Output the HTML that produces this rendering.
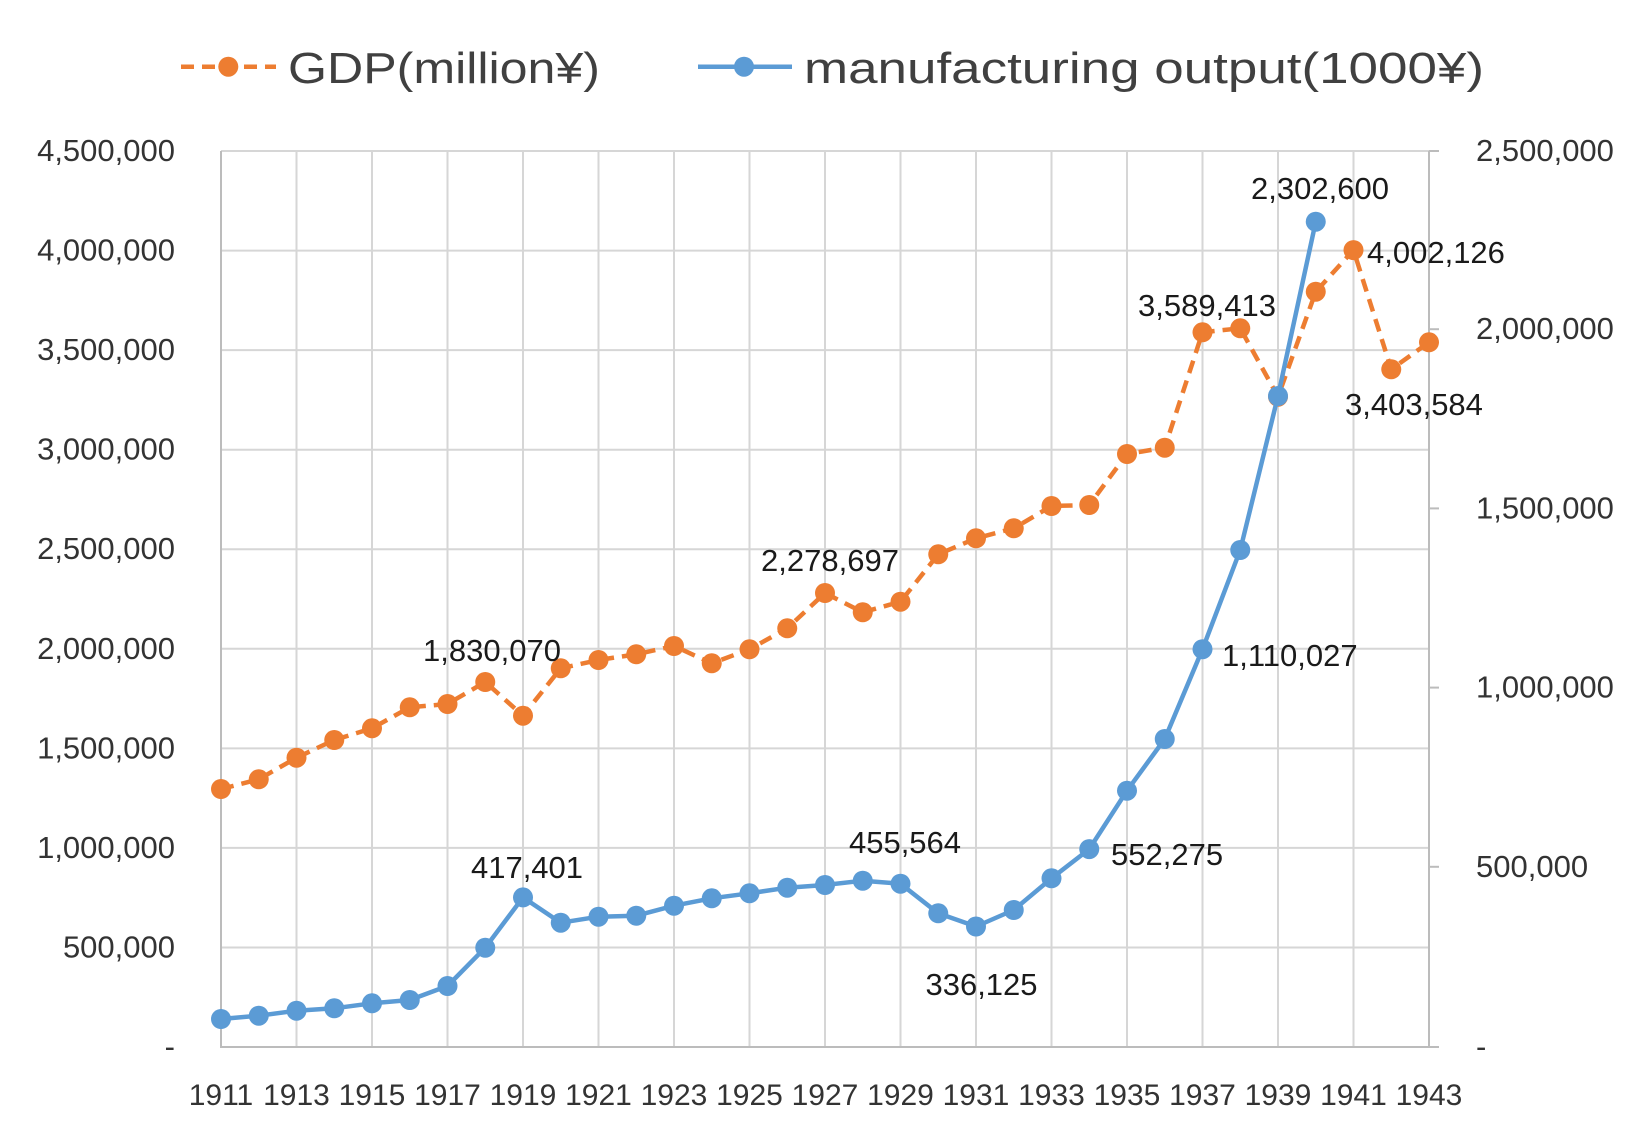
<!DOCTYPE html>
<html>
<head>
<meta charset="utf-8">
<style>
html,body{margin:0;padding:0;background:#fff;}
svg{display:block;}
text{font-family:"Liberation Sans","Noto Sans CJK KR",sans-serif;}
</style>
</head>
<body>
<svg width="1650" height="1139" viewBox="0 0 1650 1139" xmlns="http://www.w3.org/2000/svg">
<rect width="1650" height="1139" fill="#fff"/>

<!-- Legend -->
<line x1="181" y1="66.7" x2="276" y2="66.7" stroke="#ED7D31" stroke-width="4.5" stroke-dasharray="13 8"/>
<circle cx="228.3" cy="66.7" r="10" fill="#ED7D31"/>
<text x="288" y="83" font-size="44" fill="#404040" textLength="312" lengthAdjust="spacingAndGlyphs">GDP(million¥)</text>
<line x1="698" y1="66.7" x2="792" y2="66.7" stroke="#5B9BD5" stroke-width="4.5"/>
<circle cx="744" cy="66.7" r="10" fill="#5B9BD5"/>
<text x="804" y="83" font-size="44" fill="#404040" textLength="680" lengthAdjust="spacingAndGlyphs">manufacturing output(1000¥)</text>

<!-- Gridlines -->
<g stroke="#d6d6d6" stroke-width="2">
<line x1="221" y1="151" x2="1439" y2="151"/>
<line x1="221" y1="250.6" x2="1429" y2="250.6"/>
<line x1="221" y1="350.1" x2="1429" y2="350.1"/>
<line x1="221" y1="449.7" x2="1429" y2="449.7"/>
<line x1="221" y1="549.2" x2="1429" y2="549.2"/>
<line x1="221" y1="648.8" x2="1429" y2="648.8"/>
<line x1="221" y1="748.4" x2="1429" y2="748.4"/>
<line x1="221" y1="847.9" x2="1429" y2="847.9"/>
<line x1="221" y1="947.5" x2="1429" y2="947.5"/>
<line x1="296.5" y1="151" x2="296.5" y2="1047"/>
<line x1="372" y1="151" x2="372" y2="1047"/>
<line x1="447.5" y1="151" x2="447.5" y2="1047"/>
<line x1="523" y1="151" x2="523" y2="1047"/>
<line x1="598.5" y1="151" x2="598.5" y2="1047"/>
<line x1="674" y1="151" x2="674" y2="1047"/>
<line x1="749.5" y1="151" x2="749.5" y2="1047"/>
<line x1="825" y1="151" x2="825" y2="1047"/>
<line x1="900.5" y1="151" x2="900.5" y2="1047"/>
<line x1="976" y1="151" x2="976" y2="1047"/>
<line x1="1051.5" y1="151" x2="1051.5" y2="1047"/>
<line x1="1127" y1="151" x2="1127" y2="1047"/>
<line x1="1202.5" y1="151" x2="1202.5" y2="1047"/>
<line x1="1278" y1="151" x2="1278" y2="1047"/>
<line x1="1353.5" y1="151" x2="1353.5" y2="1047"/>
</g>

<!-- Axes -->
<g stroke="#bcbcbc" stroke-width="2">
<line x1="221" y1="151" x2="221" y2="1048"/>
<line x1="1429" y1="151" x2="1429" y2="1048"/>
<line x1="220" y1="1047" x2="1439" y2="1047"/>
<line x1="1429" y1="151" x2="1439" y2="151"/>
<line x1="1429" y1="329.2" x2="1439" y2="329.2"/>
<line x1="1429" y1="508.4" x2="1439" y2="508.4"/>
<line x1="1429" y1="687.6" x2="1439" y2="687.6"/>
<line x1="1429" y1="866.8" x2="1439" y2="866.8"/>
</g>

<!-- Left axis labels -->
<g font-size="31" fill="#333" text-anchor="end">
<text x="175" y="161">4,500,000</text>
<text x="175" y="260.6">4,000,000</text>
<text x="175" y="360.1">3,500,000</text>
<text x="175" y="459.7">3,000,000</text>
<text x="175" y="559.2">2,500,000</text>
<text x="175" y="658.8">2,000,000</text>
<text x="175" y="758.4">1,500,000</text>
<text x="175" y="857.9">1,000,000</text>
<text x="175" y="957.5">500,000</text>
<text x="175" y="1057">-</text>
</g>

<!-- Right axis labels -->
<g font-size="31" fill="#333" text-anchor="start">
<text x="1476" y="161">2,500,000</text>
<text x="1476" y="339.2">2,000,000</text>
<text x="1476" y="518.4">1,500,000</text>
<text x="1476" y="697.6">1,000,000</text>
<text x="1476" y="876.8">500,000</text>
<text x="1476" y="1057">-</text>
</g>

<!-- X axis labels -->
<g font-size="30" fill="#333" text-anchor="middle">
<text x="221" y="1105">1911</text>
<text x="296.5" y="1105">1913</text>
<text x="372" y="1105">1915</text>
<text x="447.5" y="1105">1917</text>
<text x="523" y="1105">1919</text>
<text x="598.5" y="1105">1921</text>
<text x="674" y="1105">1923</text>
<text x="749.5" y="1105">1925</text>
<text x="825" y="1105">1927</text>
<text x="900.5" y="1105">1929</text>
<text x="976" y="1105">1931</text>
<text x="1051.5" y="1105">1933</text>
<text x="1127" y="1105">1935</text>
<text x="1202.5" y="1105">1937</text>
<text x="1278" y="1105">1939</text>
<text x="1353.5" y="1105">1941</text>
<text x="1429" y="1105">1943</text>
</g>

<!-- GDP series -->
<polyline fill="none" stroke="#ED7D31" stroke-width="4.5" stroke-dasharray="13 8" stroke-linejoin="round"
points="221,789 258.75,779.3 296.5,757.7 334.25,740 372,728.3 409.75,707.3 447.5,704 485.25,682 523,715.7 560.75,668.3 598.5,660 636.25,654.3 674,646 711.75,663.3 749.5,649.3 787.25,628.3 825,593 862.75,612.3 900.5,601.7 938.25,554.3 976,538.3 1013.75,528.3 1051.5,506 1089.25,505 1127,454 1164.75,447.7 1202.5,332.3 1240.25,328.3 1278,396.7 1315.75,291.7 1353.5,250.1 1391.25,369.3 1429,342.3"/>
<g fill="#ED7D31">
<circle cx="221" cy="789" r="10"/>
<circle cx="258.75" cy="779.3" r="10"/>
<circle cx="296.5" cy="757.7" r="10"/>
<circle cx="334.25" cy="740" r="10"/>
<circle cx="372" cy="728.3" r="10"/>
<circle cx="409.75" cy="707.3" r="10"/>
<circle cx="447.5" cy="704" r="10"/>
<circle cx="485.25" cy="682" r="10"/>
<circle cx="523" cy="715.7" r="10"/>
<circle cx="560.75" cy="668.3" r="10"/>
<circle cx="598.5" cy="660" r="10"/>
<circle cx="636.25" cy="654.3" r="10"/>
<circle cx="674" cy="646" r="10"/>
<circle cx="711.75" cy="663.3" r="10"/>
<circle cx="749.5" cy="649.3" r="10"/>
<circle cx="787.25" cy="628.3" r="10"/>
<circle cx="825" cy="593" r="10"/>
<circle cx="862.75" cy="612.3" r="10"/>
<circle cx="900.5" cy="601.7" r="10"/>
<circle cx="938.25" cy="554.3" r="10"/>
<circle cx="976" cy="538.3" r="10"/>
<circle cx="1013.75" cy="528.3" r="10"/>
<circle cx="1051.5" cy="506" r="10"/>
<circle cx="1089.25" cy="505" r="10"/>
<circle cx="1127" cy="454" r="10"/>
<circle cx="1164.75" cy="447.7" r="10"/>
<circle cx="1202.5" cy="332.3" r="10"/>
<circle cx="1240.25" cy="328.3" r="10"/>
<circle cx="1278" cy="396.7" r="10"/>
<circle cx="1315.75" cy="291.7" r="10"/>
<circle cx="1353.5" cy="250.1" r="10"/>
<circle cx="1391.25" cy="369.3" r="10"/>
<circle cx="1429" cy="342.3" r="10"/>
</g>

<!-- Manufacturing series -->
<polyline fill="none" stroke="#5B9BD5" stroke-width="4.5" stroke-linejoin="round"
points="221,1019 258.75,1015.7 296.5,1010.7 334.25,1008.3 372,1003.3 409.75,1000 447.5,986 485.25,947.7 523,897.4 560.75,922.7 598.5,916.7 636.25,915.7 674,905.7 711.75,898.3 749.5,893.3 787.25,887.7 825,885 862.75,880.7 900.5,883.7 938.25,913.3 976,926.5 1013.75,910 1051.5,878.3 1089.25,849.1 1127,790.7 1164.75,739 1202.5,649.2 1240.25,550 1278,396 1315.75,221.7"/>
<g fill="#5B9BD5">
<circle cx="221" cy="1019" r="10"/>
<circle cx="258.75" cy="1015.7" r="10"/>
<circle cx="296.5" cy="1010.7" r="10"/>
<circle cx="334.25" cy="1008.3" r="10"/>
<circle cx="372" cy="1003.3" r="10"/>
<circle cx="409.75" cy="1000" r="10"/>
<circle cx="447.5" cy="986" r="10"/>
<circle cx="485.25" cy="947.7" r="10"/>
<circle cx="523" cy="897.4" r="10"/>
<circle cx="560.75" cy="922.7" r="10"/>
<circle cx="598.5" cy="916.7" r="10"/>
<circle cx="636.25" cy="915.7" r="10"/>
<circle cx="674" cy="905.7" r="10"/>
<circle cx="711.75" cy="898.3" r="10"/>
<circle cx="749.5" cy="893.3" r="10"/>
<circle cx="787.25" cy="887.7" r="10"/>
<circle cx="825" cy="885" r="10"/>
<circle cx="862.75" cy="880.7" r="10"/>
<circle cx="900.5" cy="883.7" r="10"/>
<circle cx="938.25" cy="913.3" r="10"/>
<circle cx="976" cy="926.5" r="10"/>
<circle cx="1013.75" cy="910" r="10"/>
<circle cx="1051.5" cy="878.3" r="10"/>
<circle cx="1089.25" cy="849.1" r="10"/>
<circle cx="1127" cy="790.7" r="10"/>
<circle cx="1164.75" cy="739" r="10"/>
<circle cx="1202.5" cy="649.2" r="10"/>
<circle cx="1240.25" cy="550" r="10"/>
<circle cx="1278" cy="396" r="10"/>
<circle cx="1315.75" cy="221.7" r="10"/>
</g>

<!-- Data labels -->
<g font-size="31" fill="#1a1a1a">
<text x="492" y="661" text-anchor="middle">1,830,070</text>
<text x="527" y="878" text-anchor="middle">417,401</text>
<text x="830" y="571" text-anchor="middle">2,278,697</text>
<text x="905" y="853" text-anchor="middle">455,564</text>
<text x="981.5" y="995" text-anchor="middle">336,125</text>
<text x="1111" y="865">552,275</text>
<text x="1222" y="666">1,110,027</text>
<text x="1207" y="316" text-anchor="middle">3,589,413</text>
<text x="1320" y="199" text-anchor="middle">2,302,600</text>
<text x="1367" y="263">4,002,126</text>
<text x="1345" y="415">3,403,584</text>
</g>
</svg>
</body>
</html>
